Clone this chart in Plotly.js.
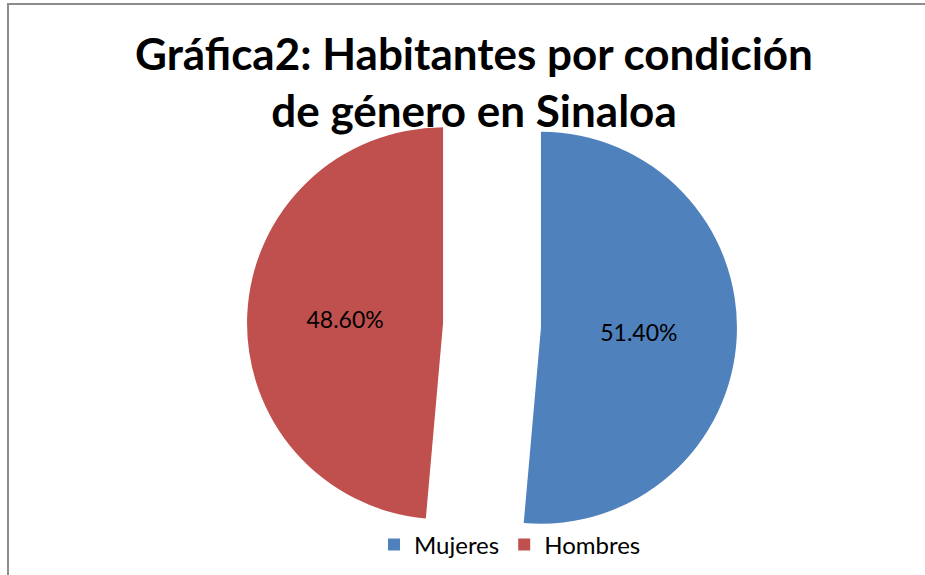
<!DOCTYPE html>
<html>
<head>
<meta charset="utf-8">
<script src="https://cdn.plot.ly/plotly-3.0.1.min.js"></script>
<style>
  html, body { margin: 0; padding: 0; background: #fff; }
  #wrap { position: relative; width: 925px; height: 575px; overflow: hidden; }
  #chart { position: absolute; left: 0; top: 0; width: 925px; height: 575px; }
  #frame { position: absolute; left: 7px; top: 3px; width: 930px; height: 600px;
           border-left: 2px solid #8c8c8c; border-top: 2px solid #8c8c8c; pointer-events: none; }
</style>
</head>
<body>
<div id="wrap">
  <div id="chart"></div>
  <div id="frame"></div>
</div>
<script>
const categories = ["Mujeres", "Hombres"];
const values = [51.4, 48.6];
const colors = ["#4F81BD", "#C0504D"];
const titleText = "Gráfica2: Habitantes por condición<br>de género en Sinaloa";

const trace = {
  type: "pie",
  labels: categories,
  values: values,
  sort: false,
  direction: "clockwise",
  rotation: 0,
  pull: [0.25, 0.25],
  marker: { colors: colors, line: { width: 0 } },
  textinfo: "percent",
  texttemplate: "%{percent:.2%}",
  textposition: "inside",
  insidetextorientation: "horizontal",
  insidetextfont: { family: "Lato, 'Open Sans', sans-serif", size: 23, color: "#000" },
  hoverinfo: "label+percent",
  domain: { x: [247 / 925, 737 / 925], y: [4.5 / 575, 494.5 / 575] }
};

const layout = {
  width: 925,
  height: 575,
  margin: { l: 0, r: 0, t: 0, b: 0 },
  paper_bgcolor: "rgba(0,0,0,0)",
  plot_bgcolor: "rgba(0,0,0,0)",
  title: {
    text: titleText,
    font: { family: "Lato, 'Open Sans', sans-serif", size: 44, color: "#000", weight: "bold" },
    x: 474 / 925,
    xanchor: "center",
    xref: "container",
    yref: "container",
    y: 1 - 70 / 575,
    yanchor: "top"
  },
  showlegend: true,
  legend: {
    orientation: "h",
    x: 510 / 925,
    xanchor: "center",
    y: 1 - 545 / 575,
    yanchor: "middle",
    font: { family: "Lato, 'Open Sans', sans-serif", size: 24, color: "#000" },
    bgcolor: "rgba(0,0,0,0)"
  }
};

Plotly.newPlot("chart", [trace], layout, { displayModeBar: false, staticPlot: true });
</script>
</body>
</html>
